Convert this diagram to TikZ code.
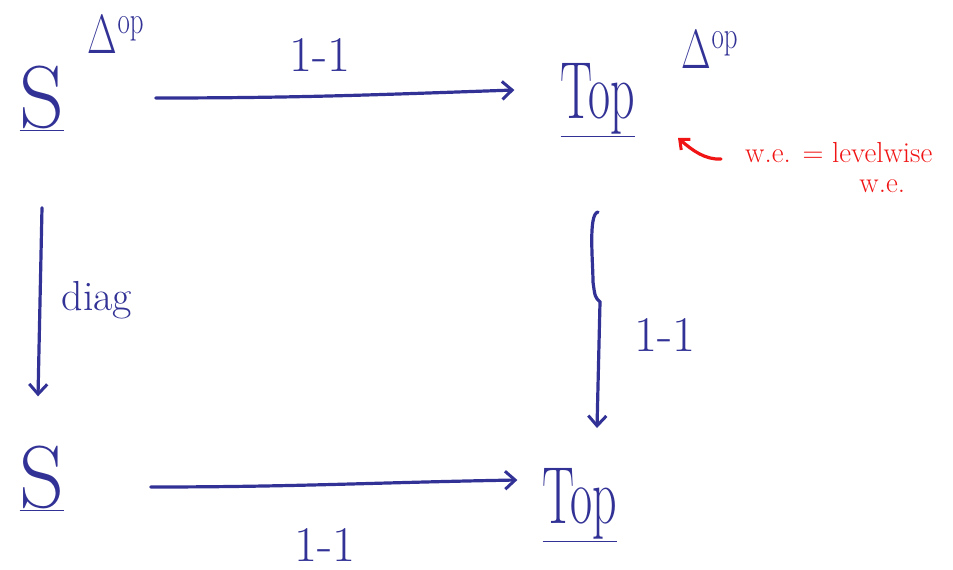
\documentclass[tikz,border=0pt]{standalone}
\usepackage{fix-cm}
\usetikzlibrary{arrows.meta,calc}
\definecolor{ink}{RGB}{50,50,150}
\definecolor{redink}{RGB}{240,20,20}
\tikzset{
  obj/.style={text=ink, inner sep=0pt, font=\fontsize{88}{88}\selectfont},
  topobj/.style={text=ink, inner sep=0pt, font=\fontsize{60}{60}\selectfont},
  sup/.style={text=ink, inner sep=0pt, font=\fontsize{48}{48}\selectfont},
  lbl/.style={text=ink, inner sep=0pt, font=\fontsize{50}{50}\selectfont},
  note/.style={text=redink, inner sep=0pt, font=\fontsize{29}{32}\selectfont},
  arr/.style={draw=ink, line width=3.2pt, line cap=round,
    -{Straight Barb[length=10pt,width=18pt,line width=3pt]}},
  redarr/.style={draw=redink, line width=3.2pt, line cap=round,
    -{Straight Barb[length=8pt,width=14pt,line width=3pt]}}
}
\begin{document}
\begin{tikzpicture}[x=1pt,y=-1pt]
\useasboundingbox (0,0) rectangle (953,570);
% objects
\node[obj] (S1) at (42,98) {\underline{S}};
\node[sup] (D1) at (116,35) {\scalebox{0.8}[1.15]{$\Delta^{\mathrm{op}}$}};
\node[topobj] (T1) at (598,100) {\scalebox{0.8}[1.35]{\underline{Top}}};
\node[sup] (D2) at (710,50) {\scalebox{0.8}[1.15]{$\Delta^{\mathrm{op}}$}};
\node[obj] (S2) at (42,478) {\underline{S}};
\node[topobj] (T2) at (580,505) {\scalebox{0.8}[1.35]{\underline{Top}}};
% labels
\node[lbl] (L1) at (320,55) {1-1};
\node[lbl, font=\fontsize{42}{42}\selectfont] (L2) at (97,300) {diag};
\node[lbl] (L3) at (665,335) {1-1};
\node[lbl] (L4) at (325,545) {1-1};
% red note
\node[note, anchor=base west] (N) at (745,162)
  {w.e. $=$ \begin{tabular}[t]{@{}c@{}}levelwise\\[-2pt] w.e.\end{tabular}};
\coordinate (tip) at (678,138);
% connectors
\draw[arr] ($(S1.east)+(91,0)$) to[out=0,in=182] ($(T1.west)+(-46,-10)$);
\draw[arr] ($(S1.south)+(0,77)$) -- ($(S2.north)+(-4,-49)$);
\draw[arr] ($(T1.south)+(0,75)$) .. controls +(-10,2) and +(0,-20) .. +(-5,70)
  .. controls +(2,15) and +(-5,-5) .. +(2,90)
  -- ($(T2.north)+(17,-40)$);
\draw[arr] ($(S2.east)+(86,9)$) to[out=0,in=181] ($(T2.west)+(-25,-25)$);
\draw[redarr] ($(N.base west)+(-24,-3)$) .. controls +(-16,1) and +(14,12) .. (tip);
\end{tikzpicture}
\end{document}
